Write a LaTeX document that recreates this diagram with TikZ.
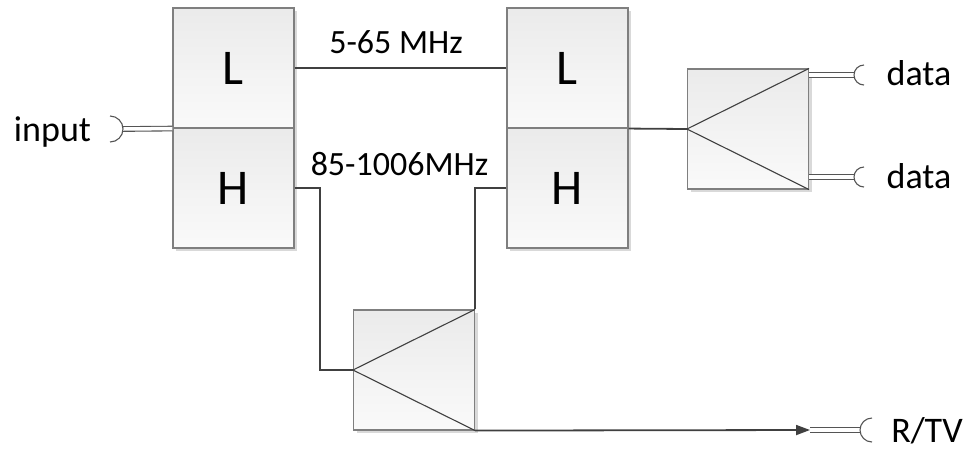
\documentclass[tikz,border=0pt]{standalone}
\usepackage{fontspec}
\setmainfont{Carlito}
\usetikzlibrary{shadows,arrows.meta}
\definecolor{boxgray}{HTML}{7F7F7F}
\definecolor{wire}{HTML}{404040}
\definecolor{cupgray}{HTML}{555555}
\begin{document}
\begin{tikzpicture}[x=1pt,y=-1pt,
  blk/.style={draw=boxgray, line width=1.1pt, inner sep=0pt, top color=black!8, bottom color=black!2,
    drop shadow={shadow xshift=3pt, shadow yshift=-3pt, fill=black!25, opacity=0.6}},
  filt/.style={blk, minimum width=121pt, minimum height=120pt, font=\fontsize{50}{50}\selectfont},
  split/.style={blk, minimum width=121pt, minimum height=120pt},
  tri/.style={draw=wire, line width=1.1pt},
  wr/.style={draw=wire, line width=1.8pt},
  dbl/.style={draw=cupgray, line width=1.1pt, double=white, double distance=3.5pt},
  cup/.style={draw=cupgray, line width=1.1pt},
  lbl/.style={inner sep=0pt, font=\fontsize{36}{36}\selectfont},
  flbl/.style={inner sep=0pt, font=\fontsize{34}{34}\selectfont}
]
\useasboundingbox (0,0) rectangle (971,451);
% filters
\node[filt] (L1) at (233.5,68) {L};
\node[filt] (H1) at (233.5,188) {H};
\node[filt] (L2) at (567.5,68) {L};
\node[filt] (H2) at (567.5,188) {H};
% splitters
\node[split] (S1) at (748,129) {};
\draw[tri] (S1.west) -- (S1.north east);
\draw[tri] (S1.west) -- (S1.south east);
\node[split] (S2) at (414,370) {};
\draw[tri] (S2.west) -- (S2.north east);
\draw[tri] (S2.west) -- (S2.south east);
% labels
\node[flbl, anchor=base] (f1) at (396,53) {5-65 MHz};
\node[flbl, anchor=base] (f2) at (399.5,175) {85-1006MHz};
% wires
\draw[wr] (L1.east) -- (L2.west);
\coordinate (c1) at (320,370);
\draw[wr] (H1.east) -| (c1) -- (S2.west);
\draw[wr] (S2.north east) |- (H2.west);
\draw[wr] (L2.south east) -- (S1.west);
\coordinate (rtvA) at (810,430);
\coordinate (rtvB) at (860,430);
\draw[wr, -{Triangle[length=14pt,width=10pt]}] (S2.south east) -- (rtvA);
% input
\coordinate (inA) at (123,129);
\draw[dbl] (inA) -- (L1.south west);
\draw[cup] (110,116) arc[start angle=-90, end angle=90, radius=13];
\node[lbl, anchor=base] (tin) at (52.5,141) {input};
% data outputs
\coordinate (d1a) at (809,75);
\coordinate (d1b) at (854,75);
\draw[dbl] (d1a) -- (d1b);
\draw[cup] (864,85) arc[start angle=90, end angle=270, radius=10];
\node[lbl, anchor=base] (td1) at (919,85) {data};
\coordinate (d2a) at (809,177);
\coordinate (d2b) at (854,177);
\draw[dbl] (d2a) -- (d2b);
\draw[cup] (864,187) arc[start angle=90, end angle=270, radius=10];
\node[lbl, anchor=base] (td2) at (919,188) {data};
% R/TV output
\draw[dbl] (rtvA) -- (rtvB);
\draw[cup] (872,442) arc[start angle=90, end angle=270, radius=12];
\node[lbl, anchor=base] (trtv) at (927,442) {R/TV};
\end{tikzpicture}
\end{document}
